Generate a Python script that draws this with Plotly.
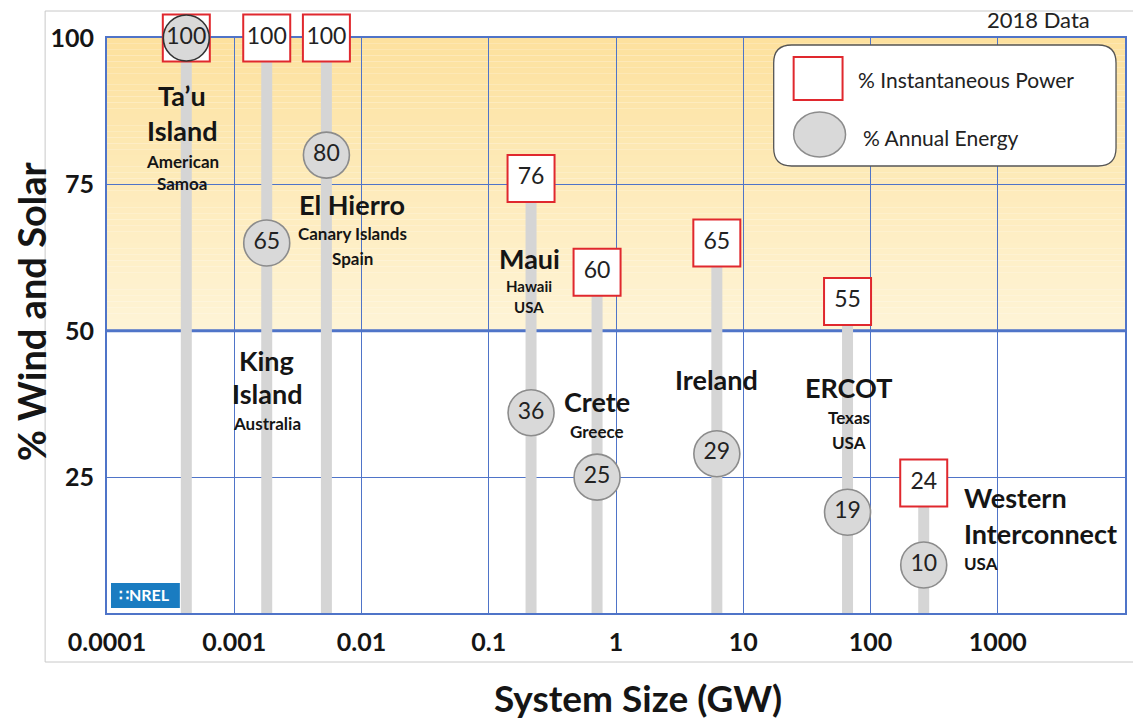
import math
import plotly.graph_objects as go

# ---------------- data ----------------
sites = ["Ta’u Island", "King Island", "El Hierro", "Maui", "Crete",
         "Ireland", "ERCOT", "Western Interconnect"]
system_size_gw = [0.00042, 0.0018, 0.0053, 0.215, 0.71, 6.2, 66, 262]
instantaneous_pct = [100, 100, 100, 76, 60, 65, 55, 24]
annual_energy_pct = [100, 65, 80, 36, 25, 29, 19, 10]

name_lines = [["Ta’u", "Island"], ["King", "Island"], ["El Hierro"], ["Maui"],
              ["Crete"], ["Ireland"], ["ERCOT"], ["Western", "Interconnect"]]
sub_lines = [["American", "Samoa"], ["Australia"], ["Canary Islands", "Spain"],
             ["Hawaii", "USA"], ["Greece"], [], ["Texas", "USA"], ["USA"]]

x_tick_vals = [0.0001, 0.001, 0.01, 0.1, 1, 10, 100, 1000]
x_tick_text = ["0.0001", "0.001", "0.01", "0.1", "1", "10", "100", "1000"]
y_tick_vals = [25, 50, 75, 100]
y_tick_text = ["25", "50", "75", "100"]

legend_labels = ["% Instantaneous Power", "% Annual Energy"]
x_title = "System Size (GW)"
y_title = "% Wind and Solar"
note_text = "2018 Data"

# ---------------- layout constants ----------------
W, H = 1133, 719
ML, MR, MT, MB = 107, 6, 38, 106
PW, PH = W - ML - MR, H - MT - MB
Y_FLOOR = 1.8
FONT = "Lato"
GRID = "#4f74c8"

def px_x(px):
    return (px - ML) / PW

def px_y(py):
    return (MT + PH - py) / PH

# label placement (pixel rows for each line, x shift from site, alignment)
label_py = [[95, 130, 161, 184], [360, 393, 423], [204, 233, 258], [258, 286, 307],
            [401, 431], [379], [387, 417, 442], [497, 533, 563]]
label_dx = [-4, 0, 26, -2, 0, 0, 1, 38]
label_align = ["center"] * 7 + ["left"]
name_size = [27, 27, 27, 27, 27, 27, 27, 27]
sub_size = [17, 17, 17, 15, 17, 17, 17, 17]

fig = go.Figure()

# gray vertical bars from floor to instantaneous value
bx, by = [], []
for s, v in zip(system_size_gw, instantaneous_pct):
    bx += [s, s, None]
    by += [Y_FLOOR, v, None]
fig.add_trace(go.Scatter(x=bx, y=by, mode="lines",
                         line=dict(color="#d5d5d5", width=11),
                         hoverinfo="skip", showlegend=False))

# instantaneous power boxes
fig.add_trace(go.Scatter(
    x=system_size_gw, y=instantaneous_pct, mode="markers+text",
    text=[str(v) for v in instantaneous_pct], textposition="middle center",
    textfont=dict(family=FONT, size=23, color="#222"),
    marker=dict(symbol="square", size=47, color="white",
                line=dict(color="#e0282e", width=2)),
    cliponaxis=False, name=legend_labels[0], showlegend=False))

# annual energy circles
fig.add_trace(go.Scatter(
    x=system_size_gw, y=annual_energy_pct, mode="markers+text",
    text=[str(v) for v in annual_energy_pct], textposition="middle center",
    textfont=dict(family=FONT, size=23, color="#222"),
    marker=dict(symbol="circle", size=46, color="#d9d9d9",
                line=dict(color=["#333333"] + ["#8c8c8c"] * (len(sites) - 1), width=1.6)),
    cliponaxis=False, name=legend_labels[1], showlegend=False))

shapes = []
# orange gradient above 50 %
top_c = (253, 225, 158)
bot_c = (254, 244, 214)
n_band = 50
for i in range(n_band):
    t = i / (n_band - 1)
    c = tuple(round(bot_c[k] + (top_c[k] - bot_c[k]) * t) for k in range(3))
    y0 = 50 + 50 * i / n_band
    y1 = 50 + 50 * (i + 1) / n_band
    shapes.append(dict(type="rect", xref="paper", yref="y", x0=0, x1=1, y0=y0, y1=y1,
                       fillcolor="rgb(%d,%d,%d)" % c, line=dict(width=0), layer="below"))
# thick 50 % line
shapes.append(dict(type="line", xref="paper", yref="y", x0=0, x1=1, y0=50, y1=50,
                   line=dict(color=GRID, width=3), layer="below"))
# outer frame
shapes.append(dict(type="rect", xref="paper", yref="paper",
                   x0=px_x(45), x1=px_x(1145), y0=px_y(662), y1=px_y(11),
                   line=dict(color="#c8c8c8", width=1), layer="below"))

# legend box (rounded rectangle)
lx0, lx1, ly0, ly1, r = 775, 1118, 45, 166, 18
def P(x, y):
    return "%f,%f" % (px_x(x), px_y(y))
path = ("M " + P(lx0 + r, ly0) + " L " + P(lx1 - r, ly0) +
        " Q " + P(lx1, ly0) + " " + P(lx1, ly0 + r) +
        " L " + P(lx1, ly1 - r) + " Q " + P(lx1, ly1) + " " + P(lx1 - r, ly1) +
        " L " + P(lx0 + r, ly1) + " Q " + P(lx0, ly1) + " " + P(lx0, ly1 - r) +
        " L " + P(lx0, ly0 + r) + " Q " + P(lx0, ly0) + " " + P(lx0 + r, ly0) + " Z")
shapes.append(dict(type="path", xref="paper", yref="paper", path=path,
                   fillcolor="white", line=dict(color="#555555", width=1.3), layer="above"))
shapes.append(dict(type="rect", xref="paper", yref="paper",
                   x0=px_x(795), x1=px_x(844), y0=px_y(100), y1=px_y(57),
                   fillcolor="white", line=dict(color="#e0282e", width=2), layer="above"))
shapes.append(dict(type="circle", xref="paper", yref="paper",
                   x0=px_x(795), x1=px_x(847), y0=px_y(157), y1=px_y(112),
                   fillcolor="#d9d9d9", line=dict(color="#8c8c8c", width=1.5), layer="above"))
# NREL logo block
shapes.append(dict(type="rect", xref="paper", yref="paper",
                   x0=px_x(111), x1=px_x(180), y0=px_y(608), y1=px_y(583),
                   fillcolor="#1a7cc1", line=dict(width=0), layer="above"))

annotations = []
for i, s in enumerate(system_size_gw):
    lines = [(t, name_size[i]) for t in name_lines[i]] + [(t, sub_size[i]) for t in sub_lines[i]]
    for (txt, sz), py in zip(lines, label_py[i]):
        annotations.append(dict(
            x=math.log10(s), xref="x", y=px_y(py), yref="paper",
            xshift=label_dx[i], text="<b>%s</b>" % txt, showarrow=False,
            xanchor=label_align[i], yanchor="middle", align=label_align[i],
            font=dict(family=FONT, size=sz, color="#151515")))

annotations += [
    dict(x=px_x(857), y=px_y(79), xref="paper", yref="paper", text=legend_labels[0],
         showarrow=False, xanchor="left", yanchor="middle",
         font=dict(family=FONT, size=21, color="#222")),
    dict(x=px_x(862), y=px_y(137), xref="paper", yref="paper", text=legend_labels[1],
         showarrow=False, xanchor="left", yanchor="middle",
         font=dict(family=FONT, size=21, color="#222")),
    dict(x=px_x(1040), y=px_y(20), xref="paper", yref="paper", text=note_text,
         showarrow=False, xanchor="center", yanchor="middle",
         font=dict(family=FONT, size=22, color="#222")),
    dict(x=px_x(145), y=px_y(594), xref="paper", yref="paper", text="<b>∷NREL</b>",
         showarrow=False, xanchor="center", yanchor="middle",
         font=dict(family=FONT, size=16, color="white")),
    dict(x=px_x(639), y=px_y(697), xref="paper", yref="paper", text="<b>%s</b>" % x_title,
         showarrow=False, xanchor="center", yanchor="middle",
         font=dict(family=FONT, size=37, color="#151515")),
    dict(x=px_x(31), y=px_y(311), xref="paper", yref="paper", text="<b>%s</b>" % y_title,
         showarrow=False, xanchor="center", yanchor="middle", textangle=-90,
         font=dict(family=FONT, size=38, color="#151515")),
]

axis_common = dict(showgrid=True, gridcolor=GRID, gridwidth=1, zeroline=False,
                   showline=True, linecolor=GRID, linewidth=2, mirror=True,
                   ticks="outside", ticklen=6, tickcolor="rgba(0,0,0,0)",
                   layer="below traces",
                   tickfont=dict(family=FONT, size=25, color="#151515"))

fig.update_layout(
    width=W, height=H, margin=dict(l=ML, r=MR, t=MT, b=MB, pad=0),
    paper_bgcolor="white", plot_bgcolor="white", showlegend=False,
    shapes=shapes, annotations=annotations,
    xaxis=dict(type="log", range=[-4, 4], tickvals=x_tick_vals,
               ticktext=["<b>%s</b>" % t for t in x_tick_text], **axis_common),
    yaxis=dict(range=[Y_FLOOR, 100], tickvals=y_tick_vals,
               ticktext=["<b>%s</b>" % t for t in y_tick_text], **axis_common),
)

fig.write_html("out.html", config={"displayModeBar": False},
               post_script="document.body.style.margin='0';")
